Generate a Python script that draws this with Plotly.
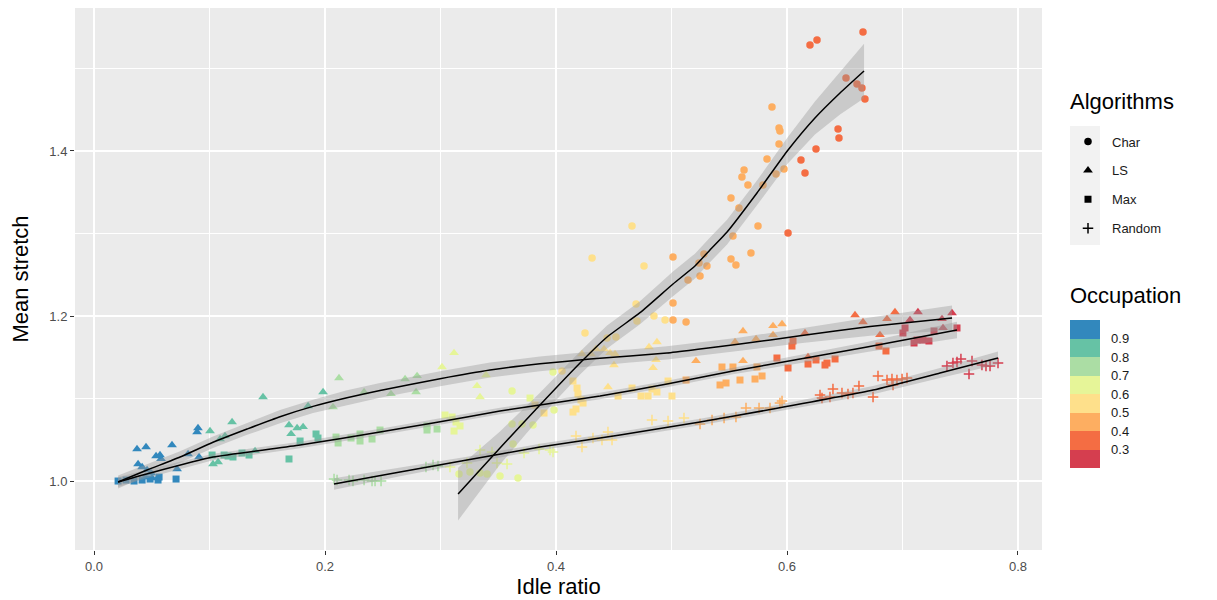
import plotly.graph_objects as go

# ---------------- observations ----------------
char_idle = [0.316, 0.3255, 0.3342, 0.3403, 0.3515, 0.3671, 0.3619, 0.3619, 0.3706, 0.3628,
             0.3801, 0.3983, 0.3974, 0.4052, 0.4251, 0.4442, 0.4519, 0.4312, 0.4658, 0.4762,
             0.4693, 0.4701, 0.4848, 0.4944, 0.5013, 0.5013, 0.5126, 0.5013, 0.5143, 0.5247,
             0.5238, 0.5307, 0.5281, 0.5515, 0.5558, 0.5688, 0.5532, 0.5749, 0.5662, 0.5792,
             0.5584, 0.5515, 0.5610, 0.5628, 0.5905, 0.5974, 0.5827, 0.5931, 0.5931, 0.5939,
             0.5870, 0.6009, 0.6121, 0.6156, 0.6251, 0.6442, 0.6450, 0.6199, 0.6260, 0.6511,
             0.6606, 0.6649, 0.6675, 0.6658]
char_stretch = [1.0085, 1.0109, 1.0097, 1.0085, 1.0061, 1.0036, 1.1091, 1.0691, 1.0691, 1.0448,
                1.0679, 1.0861, 1.1321, 1.1333, 1.1794, 1.1733, 1.1745, 1.2703, 1.3091, 1.2606,
                1.2145, 1.1939, 1.2000, 1.1952, 1.1952, 1.2158, 1.1927, 1.2715, 1.2436, 1.2485,
                1.2642, 1.2606, 1.2752, 1.2691, 1.2618, 1.2764, 1.2970, 1.3091, 1.3588, 1.3588,
                1.3309, 1.3430, 1.3685, 1.3770, 1.3721, 1.3782, 1.3903, 1.4085, 1.4279, 1.4242,
                1.4533, 1.3006, 1.3891, 1.3733, 1.4024, 1.4267, 1.4158, 1.5285, 1.5345, 1.4885,
                1.4812, 1.4764, 1.4630, 1.5442]
char_occ = [0.65] * 13 + [0.55] * 11 + [0.45] * 27 + [0.35] * 13

ls_idle = [0.0372, 0.0450, 0.0675, 0.0537, 0.0571, 0.0580, 0.0381, 0.0416, 0.0459, 0.0494,
           0.0719, 0.0814, 0.0909, 0.0900, 0.0892, 0.0442, 0.0502,
           0.1004, 0.1195, 0.1134, 0.1091, 0.1030, 0.1074, 0.1463, 0.1394, 0.1688, 0.1706,
           0.1758, 0.1810, 0.1853, 0.1983,
           0.2069, 0.2121, 0.2338, 0.2571, 0.2693, 0.2797, 0.2788,
           0.3013, 0.3117, 0.3394, 0.3316, 0.3342,
           0.4225, 0.4303, 0.4346, 0.4416, 0.4468, 0.4511, 0.4502, 0.4450, 0.4805, 0.4874,
           0.4866, 0.4840,
           0.5212, 0.5619, 0.5550, 0.5619, 0.5732, 0.5879, 0.5957, 0.5879,
           0.6156, 0.6182, 0.6589, 0.6658, 0.6805, 0.6866, 0.6935,
           0.7134, 0.7065, 0.7342, 0.7351, 0.7429]
ls_stretch = [1.0388, 1.0412, 1.0436, 1.0303, 1.0315, 1.0267, 1.0206, 1.0170, 1.0133, 1.0097,
              1.0145, 1.0327, 1.0291, 1.0642, 1.0594, 1.0048, 1.0036,
              1.0606, 1.0715, 1.0545, 1.0509, 1.0206, 1.0230, 1.1018, 1.0364, 1.0679, 1.0570,
              1.0642, 1.0655, 1.0909, 1.1079,
              1.0897, 1.1248, 1.1079, 1.1055, 1.1236, 1.1273, 1.1079,
              1.1382, 1.1552, 1.1285, 1.1152, 1.1018,
              1.1539, 1.1539, 1.1600, 1.1600, 1.1552, 1.1539, 1.1406, 1.1139, 1.1624, 1.1685,
              1.1467, 1.1370,
              1.1455, 1.1818, 1.1685, 1.1455, 1.1721, 1.1879, 1.1903, 1.1770,
              1.1794, 1.1503, 1.2012, 1.1927, 1.1770, 1.1964, 1.2048,
              1.2048, 1.1952, 1.1964, 1.1855, 1.2036]
ls_occ = [0.95] * 17 + [0.85] * 14 + [0.75] * 7 + [0.65] * 5 + [0.55] * 12 + [0.45] * 8 + [0.35] * 7 + [0.25] * 5

max_idle = [0.0208, 0.0277, 0.0346, 0.0416, 0.0485, 0.0554, 0.0563, 0.0710,
            0.1022, 0.1126, 0.1160, 0.1203, 0.1281, 0.1342, 0.1688, 0.1784, 0.1922, 0.1939,
            0.2095, 0.2113, 0.2225, 0.2303, 0.2303, 0.2407, 0.2476, 0.2883, 0.2883, 0.2970,
            0.3039, 0.3100, 0.3117, 0.3169, 0.3134, 0.3775,
            0.3818, 0.3896, 0.4147, 0.4182, 0.4190, 0.4216, 0.4234, 0.4147, 0.4173, 0.4537,
            0.4658, 0.4736, 0.4797, 0.4831, 0.4874, 0.4970, 0.5004,
            0.5126, 0.5437, 0.5532, 0.5420, 0.5472, 0.5593, 0.5723, 0.5740, 0.5784,
            0.5913, 0.6009, 0.6043, 0.6052, 0.6182, 0.6251, 0.6329, 0.6346, 0.6416, 0.6797, 0.6857,
            0.7004, 0.7022, 0.7100, 0.7126, 0.7177, 0.7229, 0.7273, 0.7472]
max_stretch = [1.0000, 1.0012, 1.0000, 1.0012, 1.0024, 1.0012, 1.0048, 1.0024,
               1.0315, 1.0315, 1.0303, 1.0291, 1.0339, 1.0315, 1.0267, 1.0485, 1.0570, 1.0521,
               1.0533, 1.0461, 1.0521, 1.0570, 1.0485, 1.0509, 1.0618, 1.0667, 1.0618, 1.0630,
               1.0800, 1.0776, 1.0606, 1.0667, 1.0715, 1.1006,
               1.0921, 1.0824, 1.1212, 1.1127, 1.1055, 1.0982, 1.0945, 1.0836, 1.0873, 1.1030,
               1.1127, 1.1030, 1.1030, 1.1115, 1.1079, 1.1212, 1.1030,
               1.1224, 1.1382, 1.1382, 1.1164, 1.1188, 1.1224, 1.1236, 1.1382, 1.1273,
               1.1491, 1.1370, 1.1636, 1.1697, 1.1418, 1.1467, 1.1406, 1.1430, 1.1479, 1.1636, 1.1576,
               1.1794, 1.1855, 1.1673, 1.1709, 1.1709, 1.1697, 1.1818, 1.1855]
max_occ = [0.95] * 8 + [0.85] * 10 + [0.75] * 10 + [0.65] * 6 + [0.55] * 17 + [0.45] * 9 + [0.35] * 11 + [0.25] * 8

rand_idle = [0.2078, 0.2104, 0.2208, 0.2242, 0.2338, 0.2407, 0.2433, 0.2485, 0.2874, 0.2935, 0.2978,
             0.3082, 0.3229, 0.3342, 0.3446, 0.3489, 0.3576, 0.3723, 0.3853, 0.3948, 0.3974,
             0.4173, 0.4225, 0.4320, 0.4398, 0.4450, 0.4485, 0.4831, 0.4970, 0.5108,
             0.5247, 0.5351, 0.5455, 0.5558, 0.5645, 0.5758, 0.5853, 0.5939, 0.5957,
             0.6286, 0.6303, 0.6372, 0.6398, 0.6476, 0.6528, 0.6571, 0.6623, 0.6745, 0.6788,
             0.6866, 0.6909, 0.6952, 0.6996, 0.7039, 0.6918,
             0.7385, 0.7437, 0.7472, 0.7506, 0.7602, 0.7576, 0.7688, 0.7723, 0.7758, 0.7827]
rand_stretch = [1.0024, 1.0012, 1.0012, 1.0000, 1.0012, 1.0000, 1.0000, 1.0000, 1.0170, 1.0194, 1.0182,
                1.0170, 1.0218, 1.0376, 1.0352, 1.0218, 1.0206, 1.0339, 1.0388, 1.0376, 1.0352,
                1.0545, 1.0412, 1.0521, 1.0497, 1.0594, 1.0497, 1.0739, 1.0727, 1.0764,
                1.0691, 1.0739, 1.0764, 1.0776, 1.0885, 1.0885, 1.0885, 1.0945, 1.0970,
                1.1042, 1.1006, 1.1018, 1.1115, 1.1067, 1.1055, 1.1067, 1.1152, 1.1018, 1.1273,
                1.1224, 1.1236, 1.1224, 1.1236, 1.1248, 1.1164,
                1.1394, 1.1430, 1.1442, 1.1479, 1.1455, 1.1297, 1.1406, 1.1394, 1.1394, 1.1430]
rand_occ = [0.75] * 11 + [0.65] * 10 + [0.55] * 9 + [0.45] * 9 + [0.35] * 16 + [0.25] * 10

# ---------------- smoothed fits (loess) with standard error ----------------
char_fit_x = [0.3152, 0.3515, 0.3861, 0.4208, 0.4442, 0.4727, 0.5013, 0.5203, 0.5333, 0.5481,
              0.5740, 0.6009, 0.6242, 0.6459, 0.6667]
char_fit_y = [0.9842, 1.0400, 1.0921, 1.1430, 1.1745, 1.2040, 1.2388, 1.2606, 1.2800, 1.3018,
              1.3491, 1.4012, 1.4400, 1.4703, 1.4970]
char_fit_se = [0.032, 0.020, 0.015, 0.014, 0.014, 0.014, 0.015, 0.015, 0.015, 0.015,
               0.015, 0.016, 0.020, 0.026, 0.033]

ls_fit_x = [0.0208, 0.0459, 0.0745, 0.1030, 0.1325, 0.1610, 0.1896, 0.2190, 0.2476, 0.2996,
            0.3429, 0.3861, 0.4294, 0.4641, 0.4961, 0.5247, 0.5593, 0.6113, 0.6719, 0.7429]
ls_fit_y = [0.9988, 1.0133, 1.0291, 1.0470, 1.0630, 1.0780, 1.0905, 1.1010, 1.1098, 1.1240,
            1.1345, 1.1420, 1.1478, 1.1515, 1.1552, 1.1600, 1.1660, 1.1760, 1.1872, 1.1976]
ls_fit_se = [0.008, 0.007, 0.007, 0.007, 0.007, 0.008, 0.008, 0.009, 0.009, 0.009,
             0.009, 0.009, 0.009, 0.008, 0.008, 0.008, 0.008, 0.009, 0.011, 0.015]

max_fit_x = [0.0208, 0.0485, 0.1030, 0.1784, 0.2476, 0.2935, 0.3515, 0.4381, 0.4961, 0.5532,
             0.6113, 0.6693, 0.7472]
max_fit_y = [0.9988, 1.0097, 1.0291, 1.0436, 1.0594, 1.0703, 1.0848, 1.1030, 1.1176, 1.1333,
             1.1479, 1.1624, 1.1830]
max_fit_se = [0.006, 0.005, 0.004, 0.004, 0.004, 0.004, 0.004, 0.004, 0.004, 0.004,
              0.005, 0.006, 0.010]

rand_fit_x = [0.2078, 0.2649, 0.3229, 0.3861, 0.4554, 0.5247, 0.5879, 0.6745, 0.7325, 0.7827]
rand_fit_y = [0.9964, 1.0109, 1.0255, 1.0412, 1.0558, 1.0715, 1.0873, 1.1103, 1.1309, 1.1491]
rand_fit_se = [0.007, 0.005, 0.004, 0.004, 0.004, 0.004, 0.004, 0.005, 0.006, 0.008]

# ---------------- styling ----------------
occ_breaks = [0.3, 0.4, 0.5, 0.6, 0.7, 0.8, 0.9]
spectral = ["#d53e4f", "#f46d43", "#fdae61", "#fee08b", "#e6f598", "#abdda4", "#66c2a5", "#3288bd"]
OCC_MIN, OCC_MAX = 0.2, 1.0

stepped = []
n = len(spectral)
for i, c in enumerate(spectral):
    stepped.append([i / n, c])
    stepped.append([(i + 1) / n, c])

FONT = "Liberation Sans, Arial, Helvetica, sans-serif"
PW, PH, L, B = 967, 542, 75, 550   # plot panel size and offsets in px


def px_x(p):
    return (p - L) / PW


def px_y(p):
    return (B - p) / PH


fig = go.Figure()

groups = [
    ("Char", char_idle, char_stretch, char_occ, "circle", 7.5, 0),
    ("LS", ls_idle, ls_stretch, ls_occ, "triangle-up", 8.5, 0),
    ("Max", max_idle, max_stretch, max_occ, "square", 7, 0),
    ("Random", rand_idle, rand_stretch, rand_occ, "cross-thin-open", 7.5, 1.5),
]

first = True
for name, xs, ys, occ, sym, size, lw in groups:
    marker = dict(symbol=sym, size=size, color=occ, colorscale=stepped,
                  cmin=OCC_MIN, cmax=OCC_MAX, line=dict(width=lw))
    if first:
        marker.update(showscale=True, colorbar=dict(
            x=px_x(1070), xanchor="left", xpad=0,
            y=px_y(394), yanchor="middle", ypad=0,
            len=148, lenmode="pixels", thickness=30,
            outlinewidth=0, ticks="outside", ticklen=9, tickcolor="rgba(0,0,0,0)",
            tickvals=occ_breaks, ticktext=[f"{v:.1f}" for v in occ_breaks],
            tickfont=dict(family=FONT, size=13, color="#1a1a1a"),
        ))
        first = False
    fig.add_trace(go.Scatter(x=xs, y=ys, mode="markers", marker=marker,
                             showlegend=False, hoverinfo="skip"))

# confidence ribbons, then fitted lines
fits = [
    (char_fit_x, char_fit_y, char_fit_se),
    (ls_fit_x, ls_fit_y, ls_fit_se),
    (max_fit_x, max_fit_y, max_fit_se),
    (rand_fit_x, rand_fit_y, rand_fit_se),
]
for fx, fy, se in fits:
    upper = [y + s for y, s in zip(fy, se)]
    lower = [y - s for y, s in zip(fy, se)]
    fig.add_trace(go.Scatter(x=fx + fx[::-1], y=upper + lower[::-1], mode="lines",
                             fill="toself", fillcolor="rgba(153,153,153,0.4)",
                             line=dict(width=0), showlegend=False, hoverinfo="skip"))
for fx, fy, se in fits:
    fig.add_trace(go.Scatter(x=fx, y=fy, mode="lines",
                             line=dict(color="black", width=1.5, shape="spline", smoothing=0.5),
                             showlegend=False, hoverinfo="skip"))

# legend entries for the shape scale
for name, xs, ys, occ, sym, size, lw in groups:
    fig.add_trace(go.Scatter(x=[None], y=[None], mode="markers", name=name,
                             legendgroup=name,
                             marker=dict(symbol=sym, size=size, color="black",
                                         line=dict(width=lw, color="black"))))

fig.update_layout(
    width=1217, height=600,
    margin=dict(l=75, r=175, t=8, b=50, autoexpand=False),
    paper_bgcolor="white", plot_bgcolor="#ebebeb",
    font=dict(family=FONT, color="#1a1a1a"),
    legend=dict(
        x=px_x(1064), xanchor="left", y=px_y(126.5), yanchor="top",
        font=dict(size=13, color="#1a1a1a"), tracegroupgap=9,
        itemwidth=38, bgcolor="rgba(0,0,0,0)",
    ),
    shapes=[dict(type="rect", xref="paper", yref="paper",
                 x0=px_x(1070), x1=px_x(1100), y0=px_y(245), y1=px_y(126),
                 fillcolor="#f2f2f2", line=dict(width=0), layer="below")],
    annotations=[
        dict(text="Algorithms", xref="paper", yref="paper",
             x=px_x(1068), xanchor="left", y=px_y(101), yanchor="middle",
             showarrow=False, font=dict(size=22, color="black")),
        dict(text="Occupation", xref="paper", yref="paper",
             x=px_x(1068), xanchor="left", y=px_y(295), yanchor="middle",
             showarrow=False, font=dict(size=22, color="black")),
    ],
)

fig.update_xaxes(
    range=[-0.0165, 0.8208], tick0=0, dtick=0.2, tickformat=".1f",
    showgrid=True, gridcolor="white", gridwidth=1.8, zeroline=False,
    ticks="outside", ticklen=4, tickcolor="#333333", tickwidth=1,
    tickfont=dict(size=13, color="#4d4d4d"), automargin=False,
    minor=dict(dtick=0.1, tick0=0, showgrid=True, gridcolor="white", gridwidth=0.9, ticklen=0),
    title=dict(text="Idle ratio", font=dict(size=22, color="black"), standoff=6),
    showline=False,
)
fig.update_yaxes(
    range=[0.9164, 1.5733], tick0=1.0, dtick=0.2, tickformat=".1f",
    showgrid=True, gridcolor="white", gridwidth=1.8, zeroline=False,
    ticks="outside", ticklen=4, tickcolor="#333333", tickwidth=1,
    tickfont=dict(size=13, color="#4d4d4d"), automargin=False,
    minor=dict(dtick=0.1, tick0=1.0, showgrid=True, gridcolor="white", gridwidth=0.9, ticklen=0),
    title=dict(text="Mean stretch", font=dict(size=22, color="black"), standoff=14),
    showline=False,
)

fig.write_html("out.html")
